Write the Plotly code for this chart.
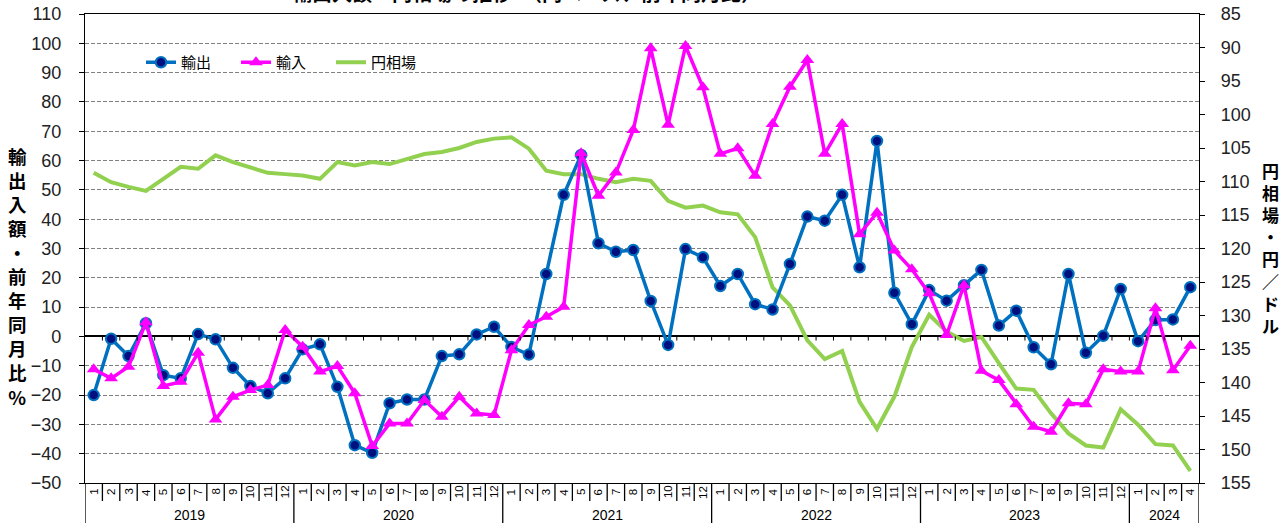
import plotly.graph_objects as go

# ---------------- data ----------------
years = [2019, 2020, 2021, 2022, 2023, 2024]
months_in_year = [12, 12, 12, 12, 12, 4]

exports = [
    -20.0, -0.8, -6.7, 4.5, -13.2, -14.3, 0.8, -1.0, -10.7, -16.9, -19.4, -14.3,
    -4.4, -2.7, -17.2, -37.1, -39.7, -22.8, -21.5, -21.5, -6.7, -6.1, 0.7, 3.3,
    -3.6, -6.2, 21.3, 48.3, 61.9, 31.8, 28.9, 29.5, 12.1, -2.9, 29.8, 27.0,
    17.2, 21.3, 11.0, 9.2, 24.7, 40.9, 39.5, 48.3, 23.6, 66.7, 14.9, 4.2,
    15.8, 12.2, 17.5, 22.7, 3.7, 8.8, -3.7, -9.5, 21.3, -5.6, 0.2, 16.2,
    -1.6, 5.6, 5.8, 16.8,
]
imports = [
    -11.2, -14.3, -10.3, 4.8, -16.9, -15.5, -5.6, -28.3, -20.6, -18.3, -16.6, 2.2,
    -3.5, -12.0, -10.1, -19.4, -37.4, -29.7, -29.7, -21.7, -27.4, -20.6, -26.3, -26.8,
    -4.7, 3.9, 6.7, 10.1, 62.5, 48.0, 55.9, 70.4, 98.3, 72.2, 99.1, 85.0,
    62.3, 64.2, 54.8, 72.5, 85.2, 94.3, 62.3, 72.5, 34.9, 42.2, 29.3, 22.9,
    14.7, 0.5, 17.5, -11.7, -14.9, -23.1, -30.8, -32.5, -22.8, -23.1, -11.2, -12.0,
    -12.0, 9.6, -11.5, -3.2,
]
yen = [
    108.7, 110.1, 110.8, 111.4, 109.6, 107.8, 108.1, 106.1, 107.1, 107.9, 108.7, 108.9,
    109.1, 109.6, 107.1, 107.6, 107.1, 107.4, 106.6, 105.9, 105.6, 105.0, 104.1, 103.6,
    103.4, 105.1, 108.4, 108.9, 108.9, 109.6, 110.1, 109.6, 109.9, 112.9, 113.9, 113.6,
    114.6, 114.9, 118.3, 125.8, 128.5, 133.7, 136.5, 135.3, 142.9, 146.9, 142.1, 134.7,
    129.9, 132.4, 133.8, 133.2, 137.1, 140.9, 141.1, 144.6, 147.6, 149.4, 149.7, 144.0,
    146.3, 149.2, 149.4, 153.2,
]

left_ticks = list(range(-50, 111, 10))
right_ticks = list(range(85, 156, 5))

title_text = "輸出入額・円相場の推移　（円ベース、前年同月比）"
left_title = "輸出入額・前年同月比%"
right_title = "円相場・円／ドル"

# month labels per category
month_labels = []
for yv, cnt in zip(years, months_in_year):
    for m in range(1, cnt + 1):
        month_labels.append(str(m))
n = len(month_labels)
xs = list(range(n))

# ---------------- figure ----------------
W, H = 1287, 523
ML, MR, MT, MB = 85, 88, 14, 40
plot_h = H - MT - MB
plot_w = W - ML - MR


def px_x(p):
    return (p - ML) / plot_w


def px_y(p):
    return (H - MB - p) / plot_h


num_font = "Liberation Sans, Arial, sans-serif"
jp_font = "Noto Sans CJK JP, sans-serif"

fig = go.Figure()

fig.add_trace(go.Scatter(
    x=xs, y=yen, name="円相場", yaxis="y", mode="lines",
    line=dict(color="#92D050", width=4), legendrank=3,
))
fig.add_trace(go.Scatter(
    x=xs, y=exports, name="輸出", yaxis="y2", mode="lines+markers",
    line=dict(color="#0070C0", width=3.5),
    marker=dict(symbol="circle", size=10.5, color="#00107F",
                line=dict(color="#0070C0", width=2)),
    legendrank=1,
))
fig.add_trace(go.Scatter(
    x=xs, y=imports, name="輸入", yaxis="y2", mode="lines+markers",
    line=dict(color="#FF00FF", width=3.5),
    marker=dict(symbol="triangle-up", size=12, color="#FF00FF"),
    legendrank=2,
))

shapes = []
# white box behind the legend hiding the gridlines
shapes.append(dict(type="rect", xref="paper", yref="paper",
                   x0=px_x(139), x1=px_x(442), y0=px_y(78), y1=px_y(37),
                   fillcolor="white", line=dict(width=0), layer="between"))
# small ticks on the zero line at month boundaries
for i in range(n - 1):
    shapes.append(dict(type="line", xref="x", yref="y2", x0=i + 0.5, x1=i + 0.5,
                       y0=0, y1=-1.4, line=dict(color="black", width=1)))
# category table separators
sep_short = -18 / plot_h
sep_long = -MB / plot_h
year_starts = set()
acc = 0
for cnt in months_in_year:
    year_starts.add(acc)
    acc += cnt
for i in range(n + 1):
    is_year = (i in year_starts) or i == n
    shapes.append(dict(type="line", xref="x", yref="paper", x0=i - 0.5, x1=i - 0.5,
                       y0=0, y1=sep_long if is_year else sep_short,
                       line=dict(color="black", width=1.3)))

annotations = []
for i, lab in enumerate(month_labels):
    annotations.append(dict(x=i, y=-9 / plot_h, xref="x", yref="paper", text=lab,
                            showarrow=False, textangle=-90, xanchor="center",
                            yanchor="middle",
                            font=dict(family=num_font, size=11.5, color="black")))
acc = 0
for yv, cnt in zip(years, months_in_year):
    annotations.append(dict(x=acc + (cnt - 1) / 2, y=-31.5 / plot_h, xref="x", yref="paper",
                            text=str(yv), showarrow=False, xanchor="center",
                            yanchor="middle",
                            font=dict(family=num_font, size=14, color="black")))
    acc += cnt

annotations.append(dict(x=px_x(17), y=px_y(276),
                        xref="paper", yref="paper", text="<br>".join(left_title),
                        showarrow=False, xanchor="center", yanchor="middle",
                        font=dict(family=jp_font, size=18.5, color="black", weight="bold")))
annotations.append(dict(x=px_x(1270), y=px_y(248),
                        xref="paper", yref="paper", text="<br>".join(right_title),
                        showarrow=False, xanchor="center", yanchor="middle",
                        font=dict(family=jp_font, size=17, color="black", weight="bold")))
annotations.append(dict(x=px_x(526), y=1, xref="paper", yref="paper",
                        text=title_text, showarrow=False, xanchor="center",
                        yanchor="bottom", yshift=5,
                        font=dict(family=jp_font, size=20, color="black", weight="bold")))

fig.update_layout(
    width=W, height=H,
    margin=dict(l=ML, r=MR, t=MT, b=MB, pad=0, autoexpand=False),
    paper_bgcolor="white", plot_bgcolor="white",
    showlegend=True,
    legend=dict(orientation="h", x=px_x(141), xanchor="left",
                y=px_y(46), yanchor="top", bgcolor="rgba(255,255,255,0)",
                font=dict(family=jp_font, size=15, color="black"),
                itemwidth=30, entrywidth=50, traceorder="normal"),
    xaxis=dict(range=[-0.5, n - 0.5], showticklabels=False, ticks="", showgrid=False,
               zeroline=False, showline=True, mirror=True, linecolor="black",
               linewidth=1.3),
    yaxis=dict(side="right", range=[155, 85], tickvals=right_ticks, ticks="outside",
               ticklen=5, tickcolor="black", showgrid=False, zeroline=False,
               showline=True, linecolor="black", linewidth=1.3,
               ticklabelstandoff=12,
               tickfont=dict(family=num_font, size=18, color="#222")),
    yaxis2=dict(side="left", overlaying="y", range=[-50, 110], tickvals=left_ticks,
                ticks="outside", ticklen=5, tickcolor="black",
                showgrid=True, gridcolor="#808080", gridwidth=1, griddash="4px,2px",
                zeroline=True, zerolinecolor="black", zerolinewidth=1.5,
                showline=True, linecolor="black", linewidth=1.3,
                ticklabelstandoff=14,
                tickfont=dict(family=num_font, size=18, color="#222")),
    shapes=shapes,
    annotations=annotations,
)

fig.write_html("out.html")
